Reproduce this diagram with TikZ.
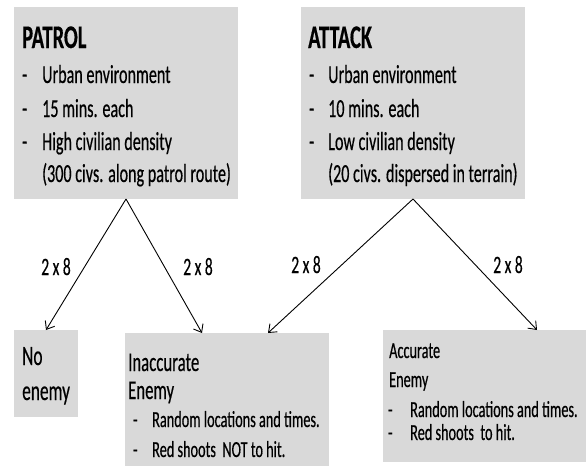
\documentclass[tikz,border=0pt]{standalone}
\usepackage{fontspec}
\setmainfont[FakeStretch=0.62, FakeBold=0.4]{Carlito}
\usetikzlibrary{arrows.meta}
\definecolor{boxgray}{HTML}{D9D9D9}
\tikzset{
  scbox/.style={fill=boxgray, inner sep=0pt, outer sep=0pt, anchor=north west},
  sctitle/.style={anchor=base west, inner sep=0pt, font=\fontsize{33}{38}\selectfont\bfseries},
  scitem/.style={anchor=base west, inner sep=0pt, font=\fontsize{26}{31}\selectfont},
  schead/.style={anchor=base west, inner sep=0pt, font=\fontsize{27}{32}\selectfont},
  scsmall/.style={anchor=base west, inner sep=0pt, font=\fontsize{23}{27}\selectfont},
  sccount/.style={anchor=base, inner sep=0pt, font=\fontsize{25}{30}\selectfont},
  scarrow/.style={line width=.9pt, -{Straight Barb[length=7pt,width=11pt]}}
}

\begin{document}
\begin{tikzpicture}[x=1pt, y=-1pt]
\useasboundingbox (0,0) rectangle (586,466);
% scenario boxes
\node[scbox, minimum width=224pt, minimum height=192pt] (patrol) at (14,7) {};
\node[scbox, minimum width=224pt, minimum height=192pt] (attack) at (301,7) {};
\node[scbox, minimum width=64pt, minimum height=87pt] (noenemy) at (14,330) {};
\node[scbox, minimum width=204pt, minimum height=133pt] (inacc) at (125,333) {};
\node[scbox, minimum width=203pt, minimum height=132pt] (acc) at (383,330) {};

% patrol
\node[sctitle] (ptitle) at (22,48) {PATROL};
\foreach \y/\t in {83/Urban environment, 117/15 mins. each, 150/High civilian density} {
  \node[scitem] (pd\y) at (22,\y) {-};
  \node[scitem] (pt\y) at (42,\y) {\t};
}
\node[scitem] (pnote) at (42,182) {(300 civs. along patrol route)};

% attack
\node[sctitle] (atitle) at (308,48) {ATTACK};
\foreach \y/\t in {83/Urban environment, 117/10 mins. each, 150/Low civilian density} {
  \node[scitem] (ad\y) at (309,\y) {-};
  \node[scitem] (at\y) at (328,\y) {\t};
}
\node[scitem] (anote) at (328,182) {(20 civs. dispersed in terrain)};

% outcomes
\node[schead, font=\fontsize{28}{33}\selectfont] (nno) at (22,365) {No};
\node[schead, font=\fontsize{28}{33}\selectfont] (nenemy) at (22,400) {enemy};

\node[schead] (ihead) at (128,371) {Inaccurate};
\node[schead] (ienemy) at (128,399) {Enemy};
\foreach \y/\t in {427/Random locations and times., 457/Red shoots\ \ NOT to hit.} {
  \node[scsmall] (id\y) at (133,\y) {-};
  \node[scsmall] (it\y) at (152,\y) {\t};
}

\node[scsmall] (ahead) at (389,358) {Accurate};
\node[scsmall] (aenemy) at (389,387) {Enemy};
\foreach \y/\t in {417/Random locations and times., 440/Red shoots\ \ to hit.} {
  \node[scsmall] (cd\y) at (388,\y) {-};
  \node[scsmall] (ct\y) at (410,\y) {\t};
}

% branches
\draw[scarrow] (patrol.south) -- (noenemy.north);
\draw[scarrow] (patrol.south) -- ([xshift=77pt]inacc.north west);
\draw[scarrow] (attack.south) -- ([xshift=143pt]inacc.north west);
\draw[scarrow] (attack.south) -- ([xshift=154pt]acc.north west);
\node[sccount] (c1) at (56,275) {2 x 8};
\node[sccount] (c2) at (198,275) {2 x 8};
\node[sccount] (c3) at (306,273) {2 x 8};
\node[sccount] (c4) at (508,273) {2 x 8};
\end{tikzpicture}
\end{document}
